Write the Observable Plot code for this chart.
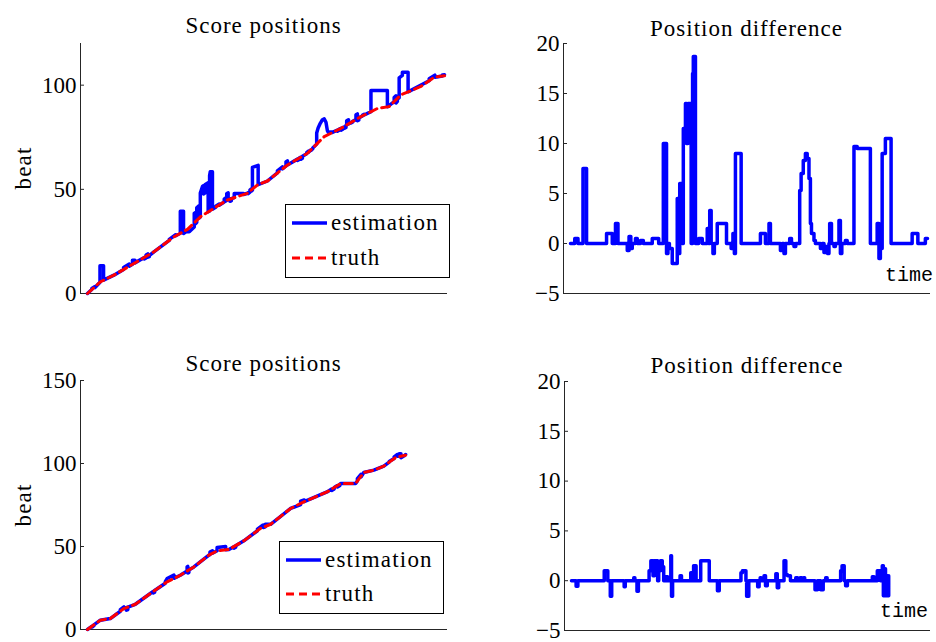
<!DOCTYPE html>
<html>
<head>
<meta charset="utf-8">
<script src="https://cdn.jsdelivr.net/npm/d3@7"></script>
<script src="https://cdn.jsdelivr.net/npm/@observablehq/plot@0.6"></script>
<style>
  html, body { margin: 0; padding: 0; background: #fff; }
  #wrap { position: relative; width: 936px; height: 642px; overflow: hidden; background: #fff; }
  .panel { position: absolute; }
  #overlay { position: absolute; left: 0; top: 0; pointer-events: none; }
  #overlay text { font-family: "Liberation Serif", serif; fill: #000; }
</style>
</head>
<body>
<div id="wrap"></div>
<script>
// ---------- data (time in arbitrary units, 0..100) ----------
const topTruth = [[0,0],[3.6,5.6],[7.4,8.8],[13,14.4],[18.6,20],[24.2,27.2],[28,30.8],[31.7,36.9],[35.4,40.9],[39.2,44.9],[44.8,48.1],[47.6,52.1],[50.4,54],[56,61.7],[61.6,67.3],[66.3,75.3],[71,79.3],[76.6,84.9],[81.3,88.9],[84.5,89.7],[87.8,95.4],[93.4,99.4],[97.1,103.8],[100,104.5]];

const topEstimation = [[0,0],[1.2,1.9],[1.2,2.4],[2.1,3.3],[2.1,2.8],[3.5,5.4],[3.5,13.3],[4.5,13.3],[4.5,6.4],[7.4,8.8],[10.1,11.5],[10.1,12.5],[11.7,14.1],[11.7,13.1],[12.6,14.0],[12.6,16.0],[13.3,16.0],[13.3,14.7],[15.9,17.3],[15.9,16.6],[16.4,17.1],[16.4,18.5],[16.9,19.0],[16.9,17.4],[17.3,17.7],[17.3,18.2],[18.6,20],[22.9,25.5],[22.9,26.0],[24.7,28.2],[24.7,27.7],[26.0,28.9],[26.0,39.5],[26.9,39.5],[26.9,28.8],[27.7,29.7],[28.5,29.6],[29.9,31.9],[29.9,38.4],[30.3,38.9],[30.3,33.5],[30.6,34.1],[30.6,41.1],[31.3,42.2],[31.3,36.2],[31.6,36.7],[31.6,48.2],[32.2,51.4],[32.5,51.8],[32.5,47.8],[32.9,48.2],[32.9,52.2],[33.8,53.2],[33.8,39.2],[34.2,39.6],[34.2,56.6],[34.4,58.5],[35.0,58.5],[35.0,40.5],[35.9,41.4],[35.9,41.9],[36.9,42.9],[36.9,42.4],[38.3,43.9],[38.3,45.4],[38.7,45.8],[38.7,44.3],[39.0,44.7],[39.0,48.0],[39.4,48.3],[39.4,45.0],[39.9,45.3],[39.9,44.3],[40.3,44.5],[40.3,45.5],[41.1,46.0],[41.1,48.0],[43.7,48.0],[43.7,47.5],[44.8,48.1],[45.0,48.4],[45.0,47.9],[45.5,48.6],[45.5,49.6],[45.9,50.2],[45.9,49.2],[46.2,49.6],[46.2,60.5],[47.8,61.5],[47.8,52.2],[50.4,54],[53.2,57.9],[53.2,58.9],[54.6,60.8],[54.6,59.8],[55.6,61.2],[55.6,63.2],[56.0,63.7],[56.0,61.7],[58.8,64.5],[58.8,63.8],[59.3,64.3],[59.3,65.0],[59.8,65.5],[59.8,64.5],[60.2,64.9],[60.2,65.9],[61.4,67.1],[61.4,67.6],[61.9,68.3],[61.9,67.8],[62.6,69.0],[62.6,68.7],[63.1,69.5],[63.1,69.8],[64.2,71.7],[64.2,77.0],[64.6,79.4],[65.2,81.7],[65.8,83.4],[66.3,83.8],[66.8,82.2],[67.2,78.1],[67.5,77.3],[68.2,77.5],[68.6,77.3],[70.0,78.4],[70.0,77.9],[70.5,78.4],[70.5,78.9],[71.0,79.3],[71.0,78.4],[71.5,78.9],[71.5,79.5],[72.0,80.0],[72.0,79.3],[72.4,79.7],[72.4,80.7],[72.6,80.9],[72.6,82.9],[73.1,83.4],[73.1,81.4],[73.8,82.1],[73.8,81.8],[74.2,82.2],[74.2,82.5],[75.2,83.5],[75.2,85.8],[75.6,86.2],[75.6,82.9],[76.0,83.3],[76.0,84.3],[77.0,85.2],[77.0,85.5],[77.5,86.0],[77.5,85.7],[79.4,87.3],[79.4,97.5],[84.0,97.5],[84.0,89.6],[85.9,92.1],[85.9,94.1],[86.4,94.9],[86.4,91.4],[86.8,92.2],[86.8,93.2],[87.3,94.0],[87.3,103.5],[88.2,104.7],[88.2,106.2],[89.8,106.2],[89.8,96.8],[95.7,102.1],[95.7,103.1],[97.3,104.8],[97.3,103.8],[99.4,104.4],[99.4,104.9],[100,105.0]];

const topDifference = [[0,0],[1.2,0.5],[2.1,0],[3.5,7.5],[4.5,0],[10.1,1],[11.7,0],[12.6,2],[13.3,0],[15.9,-0.7],[16.4,0.7],[16.9,-0.5],[17.3,0],[18.2,0.5],[18.7,0],[19.6,0.3],[20.4,0],[22.9,0.5],[24.7,0],[26.0,10],[26.9,-1],[27.3,0],[27.7,-0.5],[28.5,-2],[29.9,4.5],[30.3,-1],[30.6,6],[31.3,0],[31.6,11.5],[32.2,14],[32.5,10],[32.9,14],[33.8,0],[34.2,17],[34.4,18.7],[35.0,0],[35.9,0.5],[36.9,0],[38.3,1.5],[38.7,0],[39.0,3.3],[39.4,0],[39.9,-1],[40.3,0],[41.1,2],[43.7,0],[45.0,-0.5],[45.5,1],[45.9,-1],[46.2,9],[47.8,0],[53.2,1],[54.6,0],[55.6,2],[56.0,0],[58.8,-0.7],[59.3,0],[59.8,-1],[60.2,0],[61.4,0.5],[61.9,0],[62.6,-0.3],[63.1,0],[64.2,5.3],[64.6,7],[65.2,8.3],[65.8,9],[66.3,8.5],[66.8,6.5],[67.2,2],[67.5,1],[68.2,0.3],[68.6,0],[70.0,-0.5],[70.5,0],[71.0,-0.9],[71.5,-0.3],[72.0,-1],[72.4,0],[72.6,2],[73.1,0],[73.8,-0.3],[74.2,0],[75.2,2.3],[75.6,-1],[76.0,0],[77.0,0.3],[77.5,0],[79.4,9.7],[80.3,9.5],[84.0,0],[85.9,2],[86.4,-1.5],[86.8,-0.5],[87.3,9],[88.2,10.5],[89.8,0],[95.7,1],[97.3,0],[99.4,0.5],[100,0.5]];

const bottomTruth = [[0,0],[3.6,5.6],[6.4,6.6],[10.2,12.6],[13.4,15.2],[17.6,21.7],[22.3,28.7],[26.0,32.7],[29.8,37.7],[34.0,44.8],[36.3,47.4],[39.6,48.2],[43.8,53.4],[48.4,60.8],[51.3,63.4],[56.9,72.9],[60.6,76.9],[67.1,82.9],[70.9,87.9],[75.1,87.9],[77.4,94.6],[80.2,96.0],[83.0,98.4],[86.3,103.6],[89.1,105.0]];

const bottomEstimation = [[0,0],[1.3,2.0],[1.3,1.5],[1.8,2.3],[1.8,2.8],[3.6,5.6],[6.4,6.6],[9.2,11.0],[9.2,12.0],[10.2,13.6],[10.2,12.6],[10.9,13.2],[10.9,11.6],[11.3,12.0],[11.3,13.5],[13.4,15.2],[17.6,21.7],[18.4,23.0],[18.4,22.0],[18.8,22.5],[18.8,23.5],[21.8,27.9],[21.8,28.9],[22.3,30.7],[24.2,32.8],[24.2,30.8],[26.0,32.7],[27.9,35.2],[27.9,37.7],[28.1,38.0],[28.1,34.0],[28.4,34.4],[28.4,35.9],[29.8,37.7],[34.0,44.8],[34.3,45.1],[34.3,46.6],[35.0,47.4],[35.0,45.9],[36.3,47.4],[36.3,49.4],[38.7,50.0],[38.7,48.0],[39.6,48.2],[41.0,49.9],[41.0,48.9],[41.5,49.5],[41.5,50.5],[43.8,53.4],[47.6,59.5],[47.6,60.5],[49.0,62.7],[49.2,62.9],[49.2,61.4],[49.8,61.9],[49.8,63.4],[51.3,63.4],[56.9,72.9],[59.7,75.3],[59.7,77.3],[60.7,78.0],[60.7,77.0],[67.1,82.9],[68.4,84.6],[68.4,83.7],[69.1,84.6],[69.1,85.5],[70.0,86.7],[70.0,85.8],[70.7,86.7],[70.7,87.6],[70.9,87.9],[75.1,87.9],[75.6,89.4],[75.6,90.9],[76.6,93.4],[76.6,91.9],[77.4,94.6],[80.2,96.0],[83.0,98.4],[84.5,100.8],[84.5,101.2],[85.9,103.0],[85.9,104.0],[86.8,105.4],[86.8,104.4],[87.3,104.4],[87.3,105.9],[87.8,105.9],[87.8,103.4],[88.7,104.6],[89.1,105.4]];

const bottomDifference = [[0,0],[1.3,-0.55],[1.8,0],[9.2,1],[10.2,0],[10.9,-1.55],[11.3,0],[14.8,-0.6],[15.1,0],[17.5,0.3],[17.8,0],[18.4,-1.05],[18.8,0],[21.8,1],[22.3,2],[22.9,0.5],[23.3,2],[24.2,0],[24.5,1],[25.0,2],[25.5,1.4],[25.9,0],[26.5,0.4],[27.0,0],[27.9,2.5],[28.1,-1.55],[28.4,0],[30.5,0.5],[30.9,0],[33.5,0.8],[33.9,0],[34.3,1.5],[35.0,0],[36.3,2],[38.7,0],[41.0,-1],[41.5,0],[47.6,0.8],[48.0,1],[49.0,0],[49.2,-1.55],[49.8,0],[52.3,-0.6],[52.7,0],[53.0,0.3],[53.3,0],[54.1,0.5],[54.5,-0.5],[55.0,0],[57.4,0.7],[57.8,-0.7],[58.2,0],[59.7,2],[60.2,0.6],[60.7,0.5],[61.5,0],[63.0,0.3],[63.5,0],[64.2,0.3],[64.7,0],[65.2,0.3],[65.5,0],[68.4,-0.9],[69.1,0],[70.0,-0.9],[70.7,0],[71.4,0.3],[71.8,0],[75.6,1],[76.0,1.5],[76.6,0],[77.0,-0.5],[77.5,0],[84.5,0.4],[85.0,0],[85.9,1],[86.8,0],[87.3,1.5],[87.6,-1.5],[87.9,1.2],[88.2,-1.5],[88.5,0.5],[88.8,-1.5],[89.1,0.5]];

const timeDomain = [-1.96, 100.84];
const scoreTicksTop = [0, 50, 100];
const scoreTicksBottom = [0, 50, 100, 150];
const diffTicks = [-5, 0, 5, 10, 15, 20];
const titles = ["Score positions", "Position difference"];
const seriesNames = ["estimation", "truth"];

// ---------- drawing ----------
const BLUE = "#0000ff", RED = "#ff0000", AXIS = "#262626";
const wrap = document.getElementById("wrap");

function panel({left, top, width, height, ml, mr, mt, mb, yDomain, yTicks, lines}) {
  const innerW = width - ml - mr;
  const marks = [
    Plot.ruleX([timeDomain[0]], {stroke: AXIS, strokeWidth: 1}),
    Plot.ruleY([yDomain[0]], {stroke: AXIS, strokeWidth: 1}),
    Plot.ruleY(yTicks, {stroke: AXIS, strokeWidth: 1, insetRight: innerW - 4}),
    Plot.axisY(yTicks, {tickSize: 0, tickPadding: 4, label: null, fill: "#000"}),
    ...lines
  ];
  const chart = Plot.plot({
    width, height,
    marginLeft: ml, marginRight: mr, marginTop: mt, marginBottom: mb,
    x: {domain: timeDomain, axis: null},
    y: {domain: yDomain, axis: null},
    style: {fontFamily: "'Liberation Serif', serif", fontSize: "23px", color: "#000", background: "transparent", overflow: "visible"},
    marks
  });
  chart.classList.add("panel");
  chart.style.left = left + "px";
  chart.style.top = top + "px";
  wrap.appendChild(chart);
}

const est = (data) => Plot.line(data, {x: d => d[0], y: d => d[1], stroke: BLUE, strokeWidth: 3.5});
const tru = (data) => Plot.line(data, {x: d => d[0], y: d => d[1], stroke: RED, strokeWidth: 3, strokeDasharray: "8,5"});
const dif = (data) => Plot.line(data, {x: d => d[0], y: d => d[1], stroke: BLUE, strokeWidth: 3.5, curve: "step-after"});

panel({left: 0, top: 0, width: 468, height: 321, ml: 80, mr: 21, mt: 43, mb: 28,
  yDomain: [0, 120], yTicks: scoreTicksTop, lines: [est(topEstimation), tru(topTruth)]});
panel({left: 468, top: 0, width: 468, height: 321, ml: 95, mr: 6, mt: 43, mb: 28,
  yDomain: [-5, 20], yTicks: diffTicks, lines: [dif(topDifference)]});
panel({left: 0, top: 321, width: 468, height: 321, ml: 80, mr: 21, mt: 59, mb: 13,
  yDomain: [0, 150], yTicks: scoreTicksBottom, lines: [est(bottomEstimation), tru(bottomTruth)]});
panel({left: 468, top: 321, width: 468, height: 321, ml: 96, mr: 6, mt: 60, mb: 12,
  yDomain: [-5, 20], yTicks: diffTicks, lines: [dif(bottomDifference)]});

// ---------- titles, labels, legends (overlay) ----------
const NS = "http://www.w3.org/2000/svg";
const ov = document.createElementNS(NS, "svg");
ov.setAttribute("id", "overlay");
ov.setAttribute("width", 936);
ov.setAttribute("height", 642);
wrap.appendChild(ov);

function txt(s, x, y, opts = {}) {
  const t = document.createElementNS(NS, "text");
  t.textContent = s;
  t.setAttribute("x", x);
  t.setAttribute("y", y);
  t.setAttribute("font-size", opts.size || 23);
  if (opts.anchor) t.setAttribute("text-anchor", opts.anchor);
  if (opts.ls) t.setAttribute("letter-spacing", opts.ls);
  if (opts.family) t.style.fontFamily = opts.family;
  if (opts.transform) t.setAttribute("transform", opts.transform);
  ov.appendChild(t);
  return t;
}
function ln(x1, y1, x2, y2, stroke, w, dash) {
  const l = document.createElementNS(NS, "line");
  l.setAttribute("x1", x1); l.setAttribute("y1", y1);
  l.setAttribute("x2", x2); l.setAttribute("y2", y2);
  l.setAttribute("stroke", stroke); l.setAttribute("stroke-width", w);
  if (dash) l.setAttribute("stroke-dasharray", dash);
  ov.appendChild(l);
}
function box(x, y, w, h) {
  const r = document.createElementNS(NS, "rect");
  r.setAttribute("x", x); r.setAttribute("y", y);
  r.setAttribute("width", w); r.setAttribute("height", h);
  r.setAttribute("fill", "#fff"); r.setAttribute("stroke", "#000"); r.setAttribute("stroke-width", 1);
  ov.appendChild(r);
}

txt(titles[0], 263.5, 33, {anchor: "middle", ls: 1});
txt(titles[1], 746.5, 36, {anchor: "middle", ls: 1});
txt(titles[0], 263.5, 371, {anchor: "middle", ls: 1});
txt(titles[1], 747, 373, {anchor: "middle", ls: 1});

txt("beat", 0, 0, {anchor: "middle", ls: 1.2, transform: "translate(31,168) rotate(-90)"});
txt("beat", 0, 0, {anchor: "middle", ls: 1.2, transform: "translate(31,505) rotate(-90)"});

txt("time", 933, 281, {anchor: "end", size: 20, family: "'Liberation Mono', monospace"});
txt("time", 928, 617, {anchor: "end", size: 20, family: "'Liberation Mono', monospace"});

function legend(x, y, w, h, lx1, lx2, ty, dy) {
  box(x + 0.5, y + 0.5, w, h);
  ln(lx1, ty - 7, lx2, ty - 7, BLUE, 3.5);
  txt(seriesNames[0], lx2 + 4, ty, {ls: 1.2});
  ln(lx1, ty - 7 + dy, lx2, ty - 7 + dy, RED, 3, "8,5");
  txt(seriesNames[1], lx2 + 4, ty + dy, {ls: 1.2});
}
legend(285, 204, 164, 73, 292, 327, 230, 35);
legend(279, 541, 164, 72, 286, 321, 567, 34);
</script>
</body>
</html>
